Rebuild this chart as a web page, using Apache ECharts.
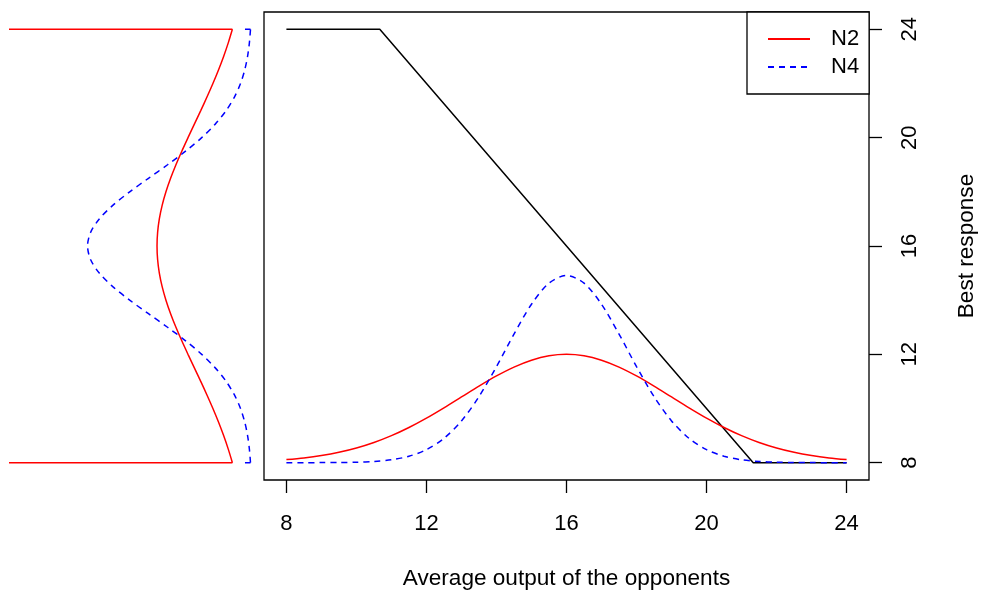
<!DOCTYPE html>
<html>
<head>
<meta charset="utf-8">
<script src="https://cdn.jsdelivr.net/npm/echarts@6/dist/echarts.min.js"></script>
<style>
  html, body { margin: 0; padding: 0; background: #ffffff; }
  #chart { width: 983px; height: 595px; }
</style>
</head>
<body>
<div id="chart"></div>
<script>
// Average output of the opponents (x grid for the density curves)
const outputGrid = [8, 8.5, 9, 9.5, 10, 10.5, 11, 11.5, 12, 12.5, 13, 13.5, 14, 14.5, 15, 15.5, 16,
  16.5, 17, 17.5, 18, 18.5, 19, 19.5, 20, 20.5, 21, 21.5, 22, 22.5, 23, 23.5, 24];

// Scaled densities of the opponents' average output, drawn in the main panel
const n2Output = [8.114, 8.176, 8.263, 8.382, 8.541, 8.745, 8.997, 9.299, 9.644, 10.025, 10.426, 10.827,
  11.203, 11.530, 11.784, 11.945, 12.000, 11.945, 11.784, 11.530, 11.203, 10.827, 10.426, 10.025,
  9.644, 9.299, 8.997, 8.745, 8.541, 8.382, 8.263, 8.176, 8.114];
const n4Output = [8.000, 8.001, 8.002, 8.006, 8.017, 8.045, 8.107, 8.236, 8.480, 8.897, 9.542, 10.438,
  11.548, 12.749, 13.849, 14.628, 14.910, 14.628, 13.849, 12.749, 11.548, 10.438, 9.542, 8.897,
  8.480, 8.236, 8.107, 8.045, 8.017, 8.006, 8.002, 8.001, 8.000];

// Best response function (kinked line)
const bestResponseX = [8, 10.6667, 21.3333, 24];
const bestResponseY = [24, 24, 8, 8];

// Best response levels and the density of the best response (side panel)
const responseLevels = [8, 8.5, 9, 9.5, 10, 10.5, 11, 11.5, 12, 12.5, 13, 13.5, 14, 14.5, 15, 15.5, 16,
  16.5, 17, 17.5, 18, 18.5, 19, 19.5, 20, 20.5, 21, 21.5, 22, 22.5, 23, 23.5, 24];
const n2Response = [0.01826, 0.02211, 0.02644, 0.03124, 0.03645, 0.04201, 0.04782, 0.05378, 0.05972,
  0.06552, 0.07099, 0.07598, 0.08032, 0.08387, 0.08650, 0.08811, 0.08866, 0.08811, 0.08650, 0.08387,
  0.08032, 0.07598, 0.07099, 0.06552, 0.05972, 0.05378, 0.04782, 0.04201, 0.03645, 0.03124, 0.02644,
  0.02211, 0.01826];
const n4Response = [0.00134, 0.00238, 0.00407, 0.00672, 0.01067, 0.01634, 0.02410, 0.03426, 0.04694,
  0.06197, 0.07884, 0.09665, 0.11418, 0.12999, 0.14260, 0.15074, 0.15356, 0.15074, 0.14260, 0.12999,
  0.11418, 0.09665, 0.07884, 0.06197, 0.04694, 0.03426, 0.02410, 0.01634, 0.01067, 0.00672, 0.00407,
  0.00238, 0.00134];
// Point masses at the bounds of the best response
const n2PointMass = 0.24;
const n4PointMass = 0.0065;
const responseBounds = [8, 24];

// Tick labels
const xTicks = [8, 12, 16, 20, 24];
const yTicks = [8, 12, 16, 20, 24];

const FONT = 'Liberation Sans, Arial, Helvetica, sans-serif';
const RED = '#ff0000';
const BLUE = '#0000ff';
const LW = 1.5;
const DASH = [6, 5];

const pairs = (xs, ys) => xs.map((x, i) => [x, ys[i]]);

const mainSeries = (name, data, color, dashed, z) => ({
  name, type: 'line', xAxisIndex: 0, yAxisIndex: 0, data,
  symbol: 'none', smooth: 0.3, silent: true, z,
  lineStyle: { color, width: LW, type: dashed ? DASH : 'solid' },
  itemStyle: { color }
});

const sideSeries = (name, data, color, dashed, smooth) => ({
  name, type: 'line', xAxisIndex: 1, yAxisIndex: 1, data,
  symbol: 'none', smooth: smooth ? 0.3 : false,
  silent: true, clip: true,
  lineStyle: { color, width: LW, type: dashed ? DASH : 'solid' },
  itemStyle: { color }
});

const chart = echarts.init(document.getElementById('chart'), null, { renderer: 'canvas' });

chart.setOption({
  animation: false,
  backgroundColor: '#ffffff',
  textStyle: { fontFamily: FONT },
  grid: [
    { left: 264, top: 12, width: 605, height: 468, show: true, borderColor: '#000', borderWidth: 1.3,
      backgroundColor: 'transparent', containLabel: false, outerBoundsMode: 'none' },
    { left: 10, top: 12, width: 243, height: 468, show: false, containLabel: false, outerBoundsMode: 'none' }
  ],
  legend: {
    orient: 'vertical', left: 747, top: 12,
    data: ['N2', 'N4'],
    backgroundColor: '#ffffff', borderColor: '#000', borderWidth: 1.3,
    padding: [16, 10, 16, 20],
    itemWidth: 42, itemHeight: 14, itemGap: 6,
    itemStyle: { opacity: 0 },
    selectedMode: false,
    textStyle: { fontFamily: FONT, fontSize: 22, color: '#000', lineHeight: 22, padding: [0, 0, 0, 16] }
  },
  xAxis: [
    {
      type: 'value', gridIndex: 0, min: 7.36, max: 24.64,
      name: 'Average output of the opponents', nameLocation: 'middle', nameGap: 87,
      nameTextStyle: { fontFamily: FONT, fontSize: 22.6, color: '#000' },
      axisLine: { show: false },
      axisTick: { show: true, inside: false, length: 13, customValues: xTicks,
        lineStyle: { color: '#000', width: 1.3 } },
      axisLabel: { show: true, margin: 33, customValues: xTicks, fontFamily: FONT, fontSize: 22,
        color: '#000', formatter: v => String(v) },
      splitLine: { show: false }
    },
    {
      type: 'value', gridIndex: 1, min: -0.001, max: 0.226, inverse: true, show: false,
      splitLine: { show: false }
    }
  ],
  yAxis: [
    {
      type: 'value', gridIndex: 0, position: 'right', min: 7.36, max: 24.64,
      name: 'Best response', nameLocation: 'middle', nameGap: 86, nameRotate: 90,
      nameTextStyle: { fontFamily: FONT, fontSize: 22.6, color: '#000' },
      axisLine: { show: false },
      axisTick: { show: true, inside: false, length: 13, customValues: yTicks,
        lineStyle: { color: '#000', width: 1.3 } },
      axisLabel: { show: true, margin: 30, rotate: 90, customValues: yTicks, fontFamily: FONT,
        fontSize: 22, color: '#000', formatter: v => String(v) },
      splitLine: { show: false }
    },
    {
      type: 'value', gridIndex: 1, min: 7.36, max: 24.64, show: false,
      splitLine: { show: false }
    }
  ],
  series: [
    {
      name: 'Best response', type: 'line', xAxisIndex: 0, yAxisIndex: 0,
      data: pairs(bestResponseX, bestResponseY), symbol: 'none', silent: true, z: 2,
      lineStyle: { color: '#000', width: LW }, itemStyle: { color: '#000' }
    },
    mainSeries('N2', pairs(outputGrid, n2Output), RED, false, 3),
    mainSeries('N4', pairs(outputGrid, n4Output), BLUE, true, 4),
    sideSeries('N2', pairs(n2Response, responseLevels), RED, false, true),
    sideSeries('N4', pairs(n4Response, responseLevels), BLUE, true, true),
    sideSeries('N2', [[n2PointMass, responseBounds[0]], [n2Response[0], responseBounds[0]]], RED, false, false),
    sideSeries('N2', [[n2Response[n2Response.length - 1], responseBounds[1]], [n2PointMass, responseBounds[1]]], RED, false, false),
    sideSeries('N4', [[n4PointMass, responseBounds[0]], [n4Response[0], responseBounds[0]]], BLUE, false, false),
    sideSeries('N4', [[n4Response[n4Response.length - 1], responseBounds[1]], [n4PointMass, responseBounds[1]]], BLUE, false, false)
  ]
});
</script>
</body>
</html>
